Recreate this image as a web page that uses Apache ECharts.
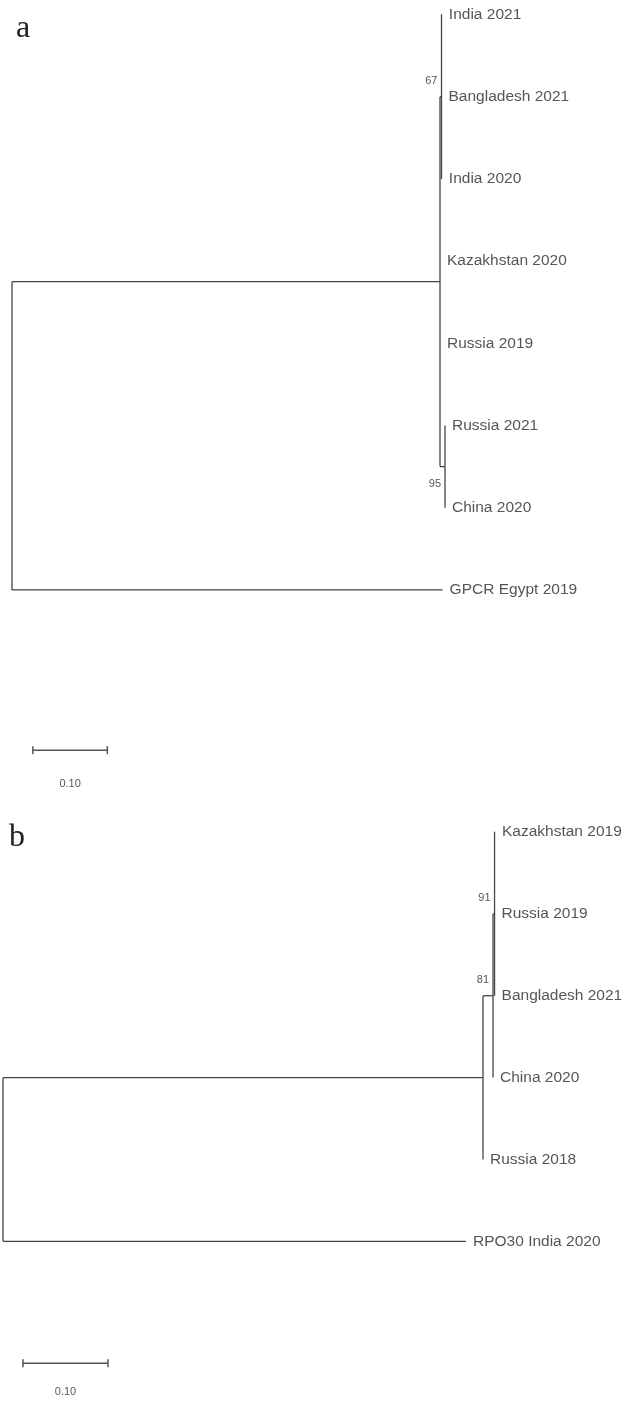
<!DOCTYPE html>
<html><head><meta charset="utf-8">
<script src="https://cdn.jsdelivr.net/npm/echarts@6/dist/echarts.min.js"></script>
<style>html,body{margin:0;padding:0;background:#fff}#c{width:632px;height:1405px}</style>
</head><body><div id="c"></div>
<script>
// ---------- Tree a (nodes in preorder; parent index, branch length, bootstrap) ----------
const treeA_names   = ["", "", "", "India 2021", "Bangladesh 2021", "India 2020", "Kazakhstan 2020", "Russia 2019", "", "Russia 2021", "China 2020", "GPCR Egypt 2019"];
const treeA_parent  = [-1, 0, 1, 2, 2, 2, 1, 1, 1, 8, 8, 0];
const treeA_length  = [0, 0.5745, 0.002, 0.0005, 0, 0.0005, 0, 0, 0.0067, 0, 0, 0.578];
const treeA_support = [null, null, 67, null, null, null, null, null, 95, null, null, null];
const treeA_scale   = 0.10;

// ---------- Tree b ----------
const treeB_names   = ["", "", "", "", "Kazakhstan 2019", "Russia 2019", "Bangladesh 2021", "China 2020", "Russia 2018", "RPO30 India 2020"];
const treeB_parent  = [-1, 0, 1, 2, 3, 3, 3, 2, 1, 0];
const treeB_length  = [0, 0.5647, 0.0118, 0.0018, 0.0005, 0, 0, 0, 0, 0.5447];
const treeB_support = [null, null, 81, 91, null, null, null, null, null, null];
const treeB_scale   = 0.10;

const panelLetters = ["a", "b"];

function layout(names, parent, length, support) {
  const n = names.length;
  const children = names.map(() => []);
  parent.forEach((p, i) => { if (p >= 0) children[p].push(i); });
  const x = new Array(n), y = new Array(n);
  let leaf = 0;
  (function visit(i, px) {
    x[i] = px + length[i];
    if (!children[i].length) { y[i] = leaf++; return; }
    children[i].forEach(c => visit(c, x[i]));
    const f = children[i][0], l = children[i][children[i].length - 1];
    y[i] = (y[f] + y[l]) / 2;
  })(0, 0);
  const segs = [], leaves = [], sup = [];
  for (let i = 0; i < n; i++) {
    const ch = children[i];
    if (ch.length) segs.push([x[i], y[ch[0]], x[i], y[ch[ch.length - 1]]]);
    if (parent[i] >= 0) segs.push([x[parent[i]], y[i], x[i], y[i]]);
    if (!ch.length) leaves.push([x[i], y[i], names[i]]);
    if (support[i] != null) {
      const above = y[i] < y[parent[i]];
      sup.push({ value: [x[i], y[i], support[i]], label: { offset: [0, above ? -16 : 17] } });
    }
  }
  return { segs, leaves, sup };
}

const A = layout(treeA_names, treeA_parent, treeA_length, treeA_support);
const B = layout(treeB_names, treeB_parent, treeB_length, treeB_support);

const LINE = '#454545';
const TXT = '#2a2a2a';

function segSeries(idx, segs) {
  return {
    type: 'custom', xAxisIndex: idx, yAxisIndex: idx, clip: false, silent: true,
    encode: { x: [0, 2], y: [1, 3] },
    data: segs,
    renderItem: function (params, api) {
      const p1 = api.coord([api.value(0), api.value(1)]);
      const p2 = api.coord([api.value(2), api.value(3)]);
      return { type: 'line', shape: { x1: p1[0], y1: p1[1], x2: p2[0], y2: p2[1] },
               style: { stroke: LINE, lineWidth: 1.3 } };
    }
  };
}
function leafSeries(idx, leaves) {
  return {
    type: 'scatter', xAxisIndex: idx, yAxisIndex: idx, symbolSize: 0, silent: true,
    data: leaves,
    label: { show: true, position: 'right', distance: 7, color: TXT, fontSize: 15.5,
             fontFamily: 'Liberation Sans, Arial, sans-serif',
             formatter: p => p.value[2] }
  };
}
function supSeries(idx, sup) {
  return {
    type: 'scatter', xAxisIndex: idx, yAxisIndex: idx, symbolSize: 0, silent: true,
    data: sup,
    label: { show: true, position: 'left', distance: 4, color: TXT, fontSize: 11,
             fontFamily: 'Liberation Sans, Arial, sans-serif',
             formatter: p => p.value[2] }
  };
}
function scaleSeries(idx, x0, yb, len, textDy) {
  return [{
    type: 'custom', xAxisIndex: idx, yAxisIndex: idx, clip: false, silent: true,
    data: [[x0, yb, x0 + len]],
    encode: { x: [0, 2], y: 1 },
    renderItem: function (params, api) {
      const a = api.coord([api.value(0), api.value(1)]);
      const b = api.coord([api.value(2), api.value(1)]);
      const st = { stroke: '#555', lineWidth: 1.5 };
      return { type: 'group', children: [
        { type: 'line', shape: { x1: a[0], y1: a[1], x2: b[0], y2: b[1] }, style: st },
        { type: 'line', shape: { x1: a[0], y1: a[1] - 4, x2: a[0], y2: a[1] + 4 }, style: st },
        { type: 'line', shape: { x1: b[0], y1: b[1] - 4, x2: b[0], y2: b[1] + 4 }, style: st }
      ] };
    }
  }, {
    type: 'scatter', xAxisIndex: idx, yAxisIndex: idx, symbolSize: 0, silent: true,
    data: [[x0 + len / 2, yb, len.toFixed(2)]],
    label: { show: true, position: 'inside', offset: [0, textDy], color: TXT, fontSize: 11,
             fontFamily: 'Liberation Sans, Arial, sans-serif', formatter: p => p.value[2] }
  }];
}

const hiddenX = (i, max) => ({ type: 'value', gridIndex: i, min: 0, max: max, show: false });
const hiddenY = (i, max) => ({ type: 'value', gridIndex: i, min: 0, max: max, inverse: true, show: false });

const option = {
  animation: false,
  backgroundColor: '#fff',
  title: [
    { text: panelLetters[0], left: 16, top: 13, padding: 0,
      textStyle: { fontFamily: 'Liberation Serif, Times New Roman, serif', fontSize: 32, fontWeight: 'normal', color: '#222' } },
    { text: panelLetters[1], left: 9, top: 822, padding: 0,
      textStyle: { fontFamily: 'Liberation Serif, Times New Roman, serif', fontSize: 32, fontWeight: 'normal', color: '#222' } }
  ],
  grid: [
    { left: 12, top: 14.5, width: 596, height: 9 * 82.2, containLabel: false },
    { left: 3, top: 832, width: 595, height: 7 * 82.6, containLabel: false }
  ],
  xAxis: [hiddenX(0, 0.8), hiddenX(1, 0.7)],
  yAxis: [hiddenY(0, 9), hiddenY(1, 7)],
  series: [
    segSeries(0, A.segs), leafSeries(0, A.leaves), supSeries(0, A.sup),
    ...scaleSeries(0, 0.028, 8.95, treeA_scale, 34),
    segSeries(1, B.segs), leafSeries(1, B.leaves), supSeries(1, B.sup),
    ...scaleSeries(1, 0.0235, 6.49, treeB_scale, 29)
  ]
};

const chart = echarts.init(document.getElementById('c'), null, { renderer: 'canvas' });
chart.setOption(option);
</script>
</body></html>
